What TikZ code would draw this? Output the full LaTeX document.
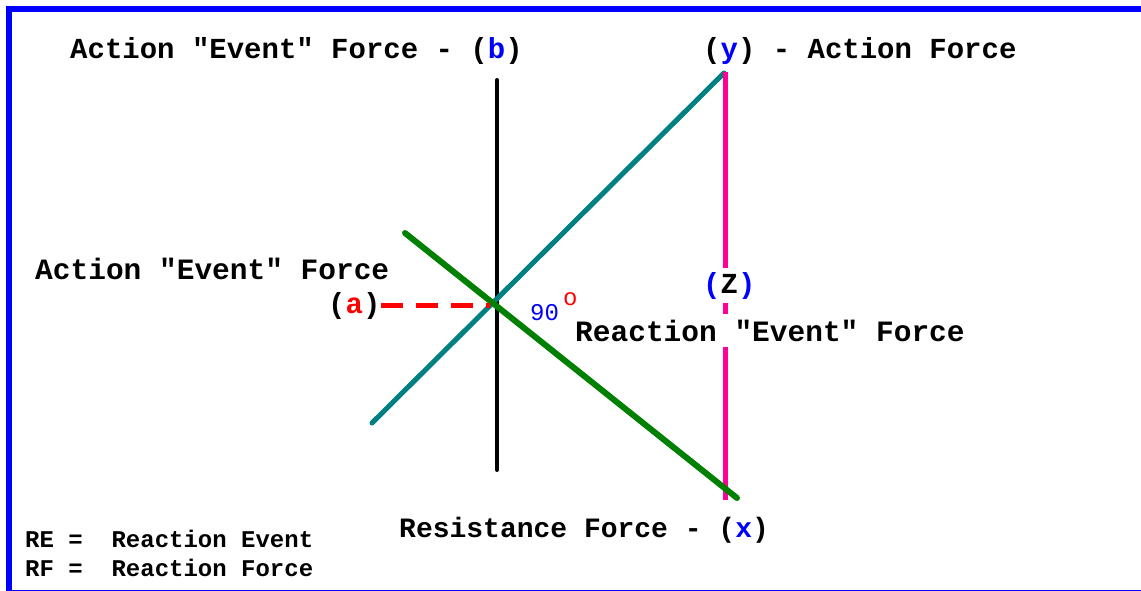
\documentclass[tikz,border=0pt]{standalone}
\usepackage{fontspec}
\setmainfont{Liberation Mono}[Ligatures=TeXOff]
\setmonofont{Liberation Mono}[Ligatures=TeXOff]
\definecolor{tealline}{HTML}{008080}
\definecolor{greenline}{HTML}{008000}
\definecolor{pinkline}{HTML}{FF0099}
\definecolor{bluetxt}{HTML}{0000FF}
\definecolor{redtxt}{HTML}{FF0000}
\tikzset{
  bigtxt/.style={anchor=base west, inner sep=0pt, font=\fontsize{29}{29}\selectfont\bfseries},
  widetxt/.style={anchor=base west, inner sep=0pt, font=\fontsize{29.5}{29.5}\selectfont\bfseries},
  smalltxt/.style={anchor=base west, inner sep=0pt, font=\fontsize{24}{24}\selectfont\bfseries},
  degtxt/.style={anchor=base west, inner sep=0pt, font=\fontsize{24}{24}\selectfont},
  force/.style={line width=5pt, line cap=round},
}
\begin{document}
\begin{tikzpicture}[x=1pt,y=-1pt]
\useasboundingbox (0,0) rectangle (1141,591);
\fill[white] (0,0) rectangle (1141,591);
\draw[bluetxt, line width=6pt] (8.5,9) rectangle (1150,592.5);

% end points
\coordinate (bTop) at (497,80);
\coordinate (bBot) at (497,470);
\coordinate (tealA) at (372,423);
\coordinate (tealB) at (724,73);
\coordinate (pinkTop) at (725,72);
\coordinate (pinkBot) at (725,500);
\coordinate (greenA) at (405,233);
\coordinate (greenB) at (737,498);
\coordinate (redA) at (381,305);
\coordinate (redB) at (490,305);

\draw[force, black, line width=4pt] (bTop) -- (bBot);
\draw[force, tealline] (tealA) -- (tealB);
\draw[line width=5pt, pinkline] (pinkTop) -- (pinkBot);
\draw[force, greenline, line width=6pt] (greenA) -- (greenB);
\draw[line width=5pt, redtxt, dash pattern=on 22pt off 13pt] (redA) -- (redB);

% labels
\node[bigtxt] (lb) at (70,59) {Action "Event" Force - (\textcolor{bluetxt}{b})};
\node[bigtxt] (ly) at (703,59) {(\textcolor{bluetxt}{y}) - Action Force};
\node[widetxt] (lae) at (35,279) {Action "Event" Force};
\node[bigtxt] (la) at (328,313) {(\textcolor{redtxt}{a})};
\node[degtxt, text=bluetxt] (l90) at (530,320) {90};
\node[degtxt, text=redtxt] (ldeg) at (563,305) {o};
\node[bigtxt, fill=white, inner ysep=4pt, text=bluetxt] (lz) at (703,293) {(\textcolor{black}{Z})};
\node[widetxt, fill=white, inner ysep=6pt] (lre) at (575,341) {Reaction "Event" Force};
\node[bigtxt, font=\fontsize{28}{28}\selectfont\bfseries] (lx) at (399,537) {Resistance Force - (\textcolor{bluetxt}{x})};
\node[smalltxt] (kre) at (25,547) {RE =\ \ Reaction Event};
\node[smalltxt] (krf) at (25,576) {RF =\ \ Reaction Force};
\end{tikzpicture}
\end{document}
